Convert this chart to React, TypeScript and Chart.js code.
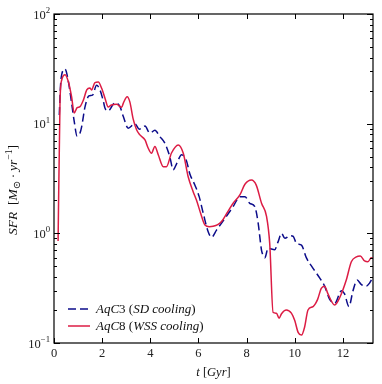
import React, { useEffect, useRef } from "react";
import { Chart, registerables } from "chart.js";
Chart.register(...registerables);

// AqC3 (SD cooling) — blue dashed
const tBlue = [0.22, 0.27, 0.32, 0.46, 0.6, 0.73, 0.84, 0.96, 1.08, 1.15, 1.29, 1.45, 1.6, 1.77, 1.91, 2.05, 2.12, 2.25, 2.53, 2.74, 2.88, 3.08, 3.36, 3.54, 3.78, 3.98, 4.19, 4.4, 4.61, 4.81, 4.95, 5.09, 5.3, 5.5, 5.64, 5.85, 6.03, 6.2, 6.4, 6.54, 6.75, 7.1, 7.44, 7.72, 7.93, 8.13, 8.34, 8.48, 8.62, 8.69, 8.76, 8.89, 9.17, 9.31, 9.45, 9.59, 9.79, 9.93, 10.07, 10.28, 10.48, 10.76, 11.04, 11.24, 11.45, 11.66, 11.94, 12.07, 12.25, 12.42, 12.59, 12.77, 12.97, 13.1, 13.25];
const sfrBlue = [12, 22, 28, 31.5, 24, 15.5, 10.5, 7.7, 8.2, 9.4, 14.3, 17.9, 18.2, 22.4, 20.3, 16, 13.8, 13.1, 15.5, 14.3, 11.6, 9.1, 10, 8.9, 9.5, 8.2, 8.7, 7.6, 6.6, 5.0, 3.8, 4.3, 5.2, 4.6, 3.5, 2.76, 2.16, 1.52, 1.04, 0.92, 1.07, 1.37, 1.75, 2.16, 2.16, 1.88, 1.75, 1.24, 0.7, 0.63, 0.6, 0.73, 0.71, 0.84, 1.0, 0.9, 0.95, 0.94, 0.81, 0.78, 0.6, 0.48, 0.39, 0.33, 0.25, 0.23, 0.3, 0.28, 0.215, 0.3, 0.375, 0.34, 0.33, 0.35, 0.4];

// AqC8 (WSS cooling) — red solid
const tRed = [0.17, 0.25, 0.32, 0.46, 0.6, 0.73, 0.84, 0.96, 1.08, 1.22, 1.36, 1.49, 1.56, 1.7, 1.84, 1.98, 2.12, 2.25, 2.39, 2.6, 2.81, 2.88, 3.04, 3.15, 3.29, 3.43, 3.57, 3.78, 3.91, 4.05, 4.19, 4.33, 4.54, 4.67, 4.88, 5.16, 5.37, 5.57, 5.78, 5.92, 6.1, 6.27, 6.45, 6.61, 6.8, 6.96, 7.2, 7.44, 7.72, 7.93, 8.2, 8.4, 8.62, 8.83, 8.96, 9.1, 9.24, 9.35, 9.45, 9.65, 9.86, 10.0, 10.14, 10.28, 10.41, 10.55, 10.76, 10.95, 11.1, 11.24, 11.38, 11.66, 11.87, 12.14, 12.35, 12.56, 12.72, 12.9, 13.04, 13.18, 13.25];
const sfrRed = [0.85, 16, 25, 28, 24, 17.6, 12.5, 14.0, 14.3, 16.4, 20.3, 21.2, 20.3, 23.7, 24, 21, 17, 14.2, 14.8, 15.0, 14.1, 15.4, 17.6, 15.8, 11.0, 8.8, 7.9, 7.1, 6.0, 5.37, 6.2, 5.2, 4.05, 4.05, 5.4, 6.4, 5.37, 3.3, 2.4, 2.0, 1.5, 1.19, 1.15, 1.16, 1.2, 1.28, 1.55, 1.88, 2.24, 2.8, 3.06, 2.75, 1.88, 1.42, 0.81, 0.19, 0.187, 0.168, 0.185, 0.2, 0.187, 0.16, 0.125, 0.118, 0.14, 0.2, 0.215, 0.25, 0.315, 0.33, 0.28, 0.222, 0.26, 0.375, 0.55, 0.61, 0.62, 0.56, 0.55, 0.6, 0.59];

const xTicks = [0, 2, 4, 6, 8, 10, 12];
const yDecades = [-1, 0, 1, 2];
const xMin = 0;
const xMax = 13.25;
const yMin = 0.1;
const yMax = 100;

const BLUE = "#0c0c8a";
const RED = "#dc1c44";
const FAMILY = '"Liberation Serif", "DejaVu Serif", serif';

type Seg = { t: string; it?: boolean; sc?: number; dy?: number };

function drawRich(ctx: CanvasRenderingContext2D, segs: Seg[], x: number, y: number, size: number, align: "left" | "center" | "right") {
  const fonts = segs.map((s) => `${s.it ? "italic " : ""}${size * (s.sc || 1)}px ${FAMILY}`);
  let w = 0;
  const widths = segs.map((s, i) => {
    ctx.font = fonts[i];
    const m = ctx.measureText(s.t).width;
    w += m;
    return m;
  });
  let cx = align === "left" ? x : align === "center" ? x - w / 2 : x - w;
  ctx.textBaseline = "alphabetic";
  ctx.textAlign = "left";
  segs.forEach((s, i) => {
    ctx.font = fonts[i];
    ctx.fillText(s.t, cx, y + (s.dy || 0) * size);
    cx += widths[i];
  });
}

const decorPlugin = {
  id: "decor",
  afterDraw(chart: any) {
    const ctx: CanvasRenderingContext2D = chart.ctx;
    const { left, right, top, bottom } = chart.chartArea;
    const xs = chart.scales.x;
    const ys = chart.scales.y;
    ctx.save();
    ctx.strokeStyle = "#000";
    ctx.lineWidth = 1;
    ctx.beginPath();
    xTicks.forEach((v) => {
      const px = Math.round(xs.getPixelForValue(v)) + 0.5;
      ctx.moveTo(px, bottom);
      ctx.lineTo(px, bottom - 5);
      ctx.moveTo(px, top);
      ctx.lineTo(px, top + 5);
    });
    yDecades.forEach((d) => {
      const py = Math.round(ys.getPixelForValue(Math.pow(10, d))) + 0.5;
      ctx.moveTo(left, py);
      ctx.lineTo(left + 6, py);
      ctx.moveTo(right, py);
      ctx.lineTo(right - 6, py);
      if (d < 2) {
        for (let m = 2; m <= 9; m++) {
          const pm = Math.round(ys.getPixelForValue(m * Math.pow(10, d))) + 0.5;
          ctx.moveTo(left, pm);
          ctx.lineTo(left + 3, pm);
          ctx.moveTo(right, pm);
          ctx.lineTo(right - 3, pm);
        }
      }
    });
    ctx.stroke();
    ctx.lineWidth = 1.2;
    ctx.strokeRect(left, top, right - left, bottom - top);

    ctx.fillStyle = "#222";
    xTicks.forEach((v) => {
      drawRich(ctx, [{ t: String(v) }], xs.getPixelForValue(v), bottom + 14, 12.5, "center");
    });
    yDecades.forEach((d) => {
      const py = ys.getPixelForValue(Math.pow(10, d));
      const exp = d < 0 ? "\u2212" + String(-d) : String(d);
      drawRich(ctx, [{ t: "10" }, { t: exp, sc: 0.7, dy: -0.45 }], left - 4, py + 4.5, 12.5, "right");
    });
    ctx.fillStyle = "#111";
    drawRich(ctx, [{ t: "t", it: true }, { t: " [" }, { t: "Gyr", it: true }, { t: "]" }], (left + right) / 2, 376, 12.5, "center");
    ctx.save();
    ctx.translate(17, 190);
    ctx.rotate(-Math.PI / 2);
    drawRich(ctx, [
      { t: "SFR", it: true },
      { t: "  [" },
      { t: "M", it: true },
      { t: "\u2299", sc: 0.75, dy: 0.25 },
      { t: "\u2009\u00b7\u2009" },
      { t: "yr", it: true },
      { t: "\u22121", sc: 0.72, dy: -0.4 },
      { t: "]" },
    ], 0, 0, 13.5, "center");
    ctx.restore();

    const lx0 = 68, lx1 = 90, tx = 96;
    const yb = 309, yr = 326;
    ctx.lineWidth = 1.5;
    ctx.strokeStyle = BLUE;
    ctx.setLineDash([8, 4]);
    ctx.beginPath();
    ctx.moveTo(lx0, yb);
    ctx.lineTo(lx1, yb);
    ctx.stroke();
    ctx.setLineDash([]);
    ctx.strokeStyle = RED;
    ctx.beginPath();
    ctx.moveTo(lx0, yr);
    ctx.lineTo(lx1, yr);
    ctx.stroke();
    ctx.fillStyle = "#111";
    drawRich(ctx, [{ t: "AqC", it: true }, { t: "3 (" }, { t: "SD cooling", it: true }, { t: ")" }], tx, yb + 4, 13, "left");
    drawRich(ctx, [{ t: "AqC", it: true }, { t: "8 (" }, { t: "WSS cooling", it: true }, { t: ")" }], tx, yr + 4, 13, "left");
    ctx.restore();
  },
};

export default function App() {
  const ref = useRef<HTMLCanvasElement | null>(null);
  useEffect(() => {
    if (!ref.current) return;
    const chart = new Chart(ref.current, {
      type: "line",
      data: {
        datasets: [
          {
            label: "AqC3 (SD cooling)",
            data: tBlue.map((t, i) => ({ x: t, y: sfrBlue[i] })),
            borderColor: BLUE,
            borderWidth: 1.5,
            borderDash: [8, 4],
            pointRadius: 0,
            fill: false,
            cubicInterpolationMode: "monotone",
            order: 1,
          },
          {
            label: "AqC8 (WSS cooling)",
            data: tRed.map((t, i) => ({ x: t, y: sfrRed[i] })),
            borderColor: RED,
            borderWidth: 1.5,
            pointRadius: 0,
            fill: false,
            cubicInterpolationMode: "monotone",
            order: 0,
          },
        ],
      },
      options: {
        animation: false,
        responsive: false,
        devicePixelRatio: 1,
        layout: { padding: { left: 54, right: 9, top: 14, bottom: 41 } },
        scales: {
          x: { type: "linear", min: xMin, max: xMax, display: false },
          y: { type: "logarithmic", min: yMin, max: yMax, display: false },
        },
        plugins: { legend: { display: false }, tooltip: { enabled: false } },
      },
      plugins: [decorPlugin],
    });
    return () => chart.destroy();
  }, []);
  return (
    <div style={{ position: "fixed", left: 0, top: 0, width: 382, height: 384, background: "#fff" }}>
      <canvas ref={ref} width={382} height={384} />
    </div>
  );
}
